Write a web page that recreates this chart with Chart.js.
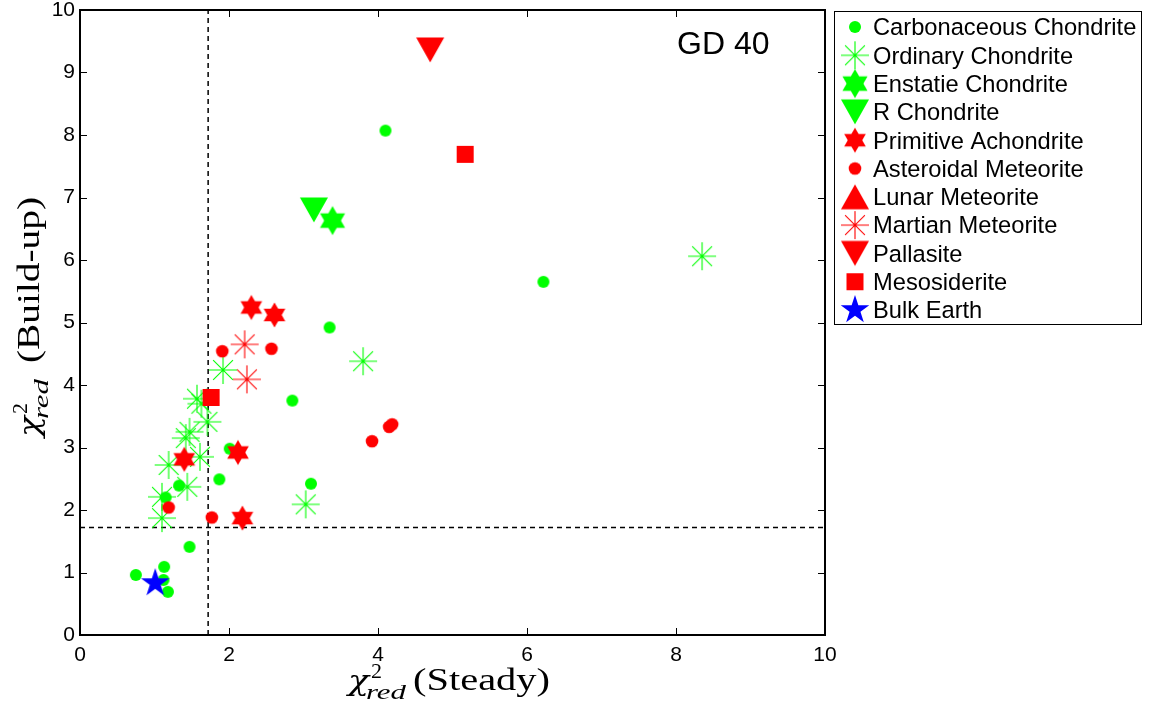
<!DOCTYPE html>
<html>
<head>
<meta charset="utf-8">
<script src="https://cdn.jsdelivr.net/npm/chart.js@4.4.0/dist/chart.umd.min.js"></script>
<style>
  html, body { margin: 0; padding: 0; background: #fff; }
</style>
</head>
<body>
<canvas id="chart" width="1155" height="706"></canvas>
<script>
// tick labels
const xTicks = [0, 2, 4, 6, 8, 10];
const yTicks = [0, 1, 2, 3, 4, 5, 6, 7, 8, 9, 10];
// chi2 threshold (dashed lines)
const threshold = 1.72;

// [steady, build-up] per meteorite class
const carbonaceous = [[4.10, 8.07], [6.22, 5.65], [3.35, 4.92], [2.85, 3.75], [2.01, 2.98], [1.87, 2.49],
  [3.10, 2.42], [1.33, 2.39], [1.15, 2.20], [1.47, 1.41], [1.13, 1.09], [0.75, 0.96], [1.12, 0.88], [1.18, 0.69]];
const ordinary = [[8.35, 6.06], [3.80, 4.38], [1.92, 4.24], [1.57, 3.78], [1.63, 3.70], [1.71, 3.41],
  [1.42, 3.15], [1.47, 3.25], [1.61, 2.85], [1.19, 2.72], [1.44, 2.37], [1.10, 2.21], [1.10, 1.87], [3.03, 2.09]];
const enstatite = [[3.39, 6.63]];
const rChondrite = [[3.14, 6.80]];
const primitive = [[2.30, 5.24], [2.61, 5.12], [2.12, 2.92], [1.40, 2.81], [2.18, 1.87]];
const asteroidal = [[1.91, 4.54], [2.57, 4.58], [4.15, 3.33], [4.19, 3.37], [3.92, 3.10], [1.77, 1.88], [1.19, 2.04]];
const lunar = [];
const martian = [[2.21, 4.65], [2.24, 4.09]];
const pallasite = [[4.70, 9.36]];
const mesosiderite = [[5.17, 7.69], [1.76, 3.80]];
const bulkEarth = [[1.01, 0.83]];

const GREEN = "#00ff00", RED = "#ff0000", BLUE = "#0000ff";

// marker images
function makeMarker(size, paint) {
  const c = document.createElement("canvas");
  c.width = size; c.height = size;
  const g = c.getContext("2d");
  paint(g, size / 2);
  return c;
}
function dot(color, r) {
  return makeMarker(Math.ceil(r) * 2 + 2, (g, c) => {
    g.fillStyle = color; g.beginPath(); g.arc(c, c, r, 0, Math.PI * 2); g.fill();
  });
}
function asterisk(color, r) {
  return makeMarker(Math.ceil(r) * 2 + 2, (g, c) => {
    g.strokeStyle = color; g.lineWidth = 1.1;
    g.beginPath();
    for (let k = 0; k < 4; k++) {
      const a = k * Math.PI / 4;
      g.moveTo(c - r * Math.cos(a), c - r * Math.sin(a));
      g.lineTo(c + r * Math.cos(a), c + r * Math.sin(a));
    }
    g.stroke();
  });
}
function hexagram(color, R) {
  return makeMarker(Math.ceil(R) * 2 + 2, (g, c) => {
    g.fillStyle = color;
    [-90, 90].forEach(start => {
      g.beginPath();
      for (let k = 0; k < 3; k++) {
        const a = (start + k * 120) * Math.PI / 180;
        g.lineTo(c + R * Math.cos(a), c + R * Math.sin(a));
      }
      g.closePath(); g.fill();
    });
  });
}
function triangle(color, w, h, down) {
  return makeMarker(Math.ceil(Math.max(w, h)) + 2, (g, c) => {
    g.fillStyle = color; g.beginPath();
    if (down) {
      g.moveTo(c - w / 2, c - h / 2); g.lineTo(c + w / 2, c - h / 2); g.lineTo(c, c + h / 2);
    } else {
      g.moveTo(c - w / 2, c + h / 2); g.lineTo(c + w / 2, c + h / 2); g.lineTo(c, c - h / 2);
    }
    g.closePath(); g.fill();
  });
}
function square(color, s) {
  return makeMarker(Math.ceil(s) + 2, (g, c) => {
    g.fillStyle = color; g.fillRect(c - s / 2, c - s / 2, s, s);
  });
}
function pentagram(color, R) {
  return makeMarker(Math.ceil(R) * 2 + 2, (g, c) => {
    g.fillStyle = color; g.beginPath();
    for (let k = 0; k < 10; k++) {
      const rr = k % 2 ? R * 0.382 : R;
      const a = (-90 + k * 36) * Math.PI / 180;
      g.lineTo(c + rr * Math.cos(a), c + rr * Math.sin(a));
    }
    g.closePath(); g.fill();
  });
}

const series = [
  { label: "Carbonaceous Chondrite", data: carbonaceous, marker: dot(GREEN, 6) },
  { label: "Ordinary Chondrite", data: ordinary, marker: asterisk(GREEN, 14) },
  { label: "Enstatie Chondrite", data: enstatite, marker: hexagram(GREEN, 14.5) },
  { label: "R Chondrite", data: rChondrite, marker: triangle(GREEN, 28, 25, true) },
  { label: "Primitive Achondrite", data: primitive, marker: hexagram(RED, 12.5) },
  { label: "Asteroidal Meteorite", data: asteroidal, marker: dot(RED, 6.3) },
  { label: "Lunar Meteorite", data: lunar, marker: triangle(RED, 28, 25, false) },
  { label: "Martian Meteorite", data: martian, marker: asterisk(RED, 14) },
  { label: "Pallasite", data: pallasite, marker: triangle(RED, 28, 25, true) },
  { label: "Mesosiderite", data: mesosiderite, marker: square(RED, 17) },
  { label: "Bulk Earth", data: bulkEarth, marker: pentagram(BLUE, 15) }
];

const datasets = series.map((s, i) => ({
  type: "scatter",
  label: s.label,
  data: s.data.map(p => ({ x: p[0], y: p[1] })),
  pointStyle: s.marker,
  pointRadius: 5,
  order: series.length - i
}));
// dashed threshold lines, under the markers
datasets.push({
  type: "line", label: "vline", showLine: true, order: 50,
  data: [{ x: threshold, y: 0 }, { x: threshold, y: 10 }],
  borderColor: "#000", borderWidth: 1.5, borderDash: [5, 4], pointRadius: 0
});
datasets.push({
  type: "line", label: "hline", showLine: true, order: 50,
  data: [{ x: 0, y: threshold }, { x: 10, y: threshold }],
  borderColor: "#000", borderWidth: 1.5, borderDash: [5, 4], pointRadius: 0
});

function fitText(ctx, text, x, y, font, width) {
  ctx.font = font;
  const w = ctx.measureText(text).width;
  ctx.save();
  ctx.translate(x, y);
  ctx.scale(width / w, 1);
  ctx.fillText(text, 0, 0);
  ctx.restore();
}

// chi^2_red (...) label, drawn along the local x axis from (0,0) = baseline start
function chiLabel(ctx, paren, parenStart, parenWidth) {
  ctx.fillStyle = "#000";
  ctx.textBaseline = "alphabetic";
  ctx.textAlign = "left";
  fitText(ctx, "\u03C7", 0, 0, "italic 27px 'DejaVu Serif'", 21);
  fitText(ctx, "2", 23, -12, "21px 'Liberation Serif'", 11);
  fitText(ctx, "red", 18, 9, "italic 21px 'Liberation Serif'", 40);
  fitText(ctx, paren, parenStart, 0, "31px 'Liberation Serif'", parenWidth);
}

const decorations = {
  id: "decorations",
  afterDraw(chart) {
    const ctx = chart.ctx;
    const a = chart.chartArea;
    const xs = chart.scales.x, ys = chart.scales.y;
    ctx.save();
    // inward ticks
    ctx.strokeStyle = "#000";
    ctx.lineWidth = 1;
    ctx.beginPath();
    xTicks.forEach(v => {
      const px = Math.round(xs.getPixelForValue(v)) + 0.5;
      ctx.moveTo(px, a.bottom); ctx.lineTo(px, a.bottom - 7);
      ctx.moveTo(px, a.top); ctx.lineTo(px, a.top + 7);
    });
    yTicks.forEach(v => {
      const py = Math.round(ys.getPixelForValue(v)) + 0.5;
      ctx.moveTo(a.left, py); ctx.lineTo(a.left + 7, py);
      ctx.moveTo(a.right, py); ctx.lineTo(a.right - 7, py);
    });
    ctx.stroke();
    // frame
    ctx.lineWidth = 2;
    ctx.strokeRect(a.left, a.top, a.right - a.left, a.bottom - a.top);

    // annotation
    ctx.fillStyle = "#000";
    ctx.font = "32px 'Liberation Sans'";
    ctx.textBaseline = "alphabetic";
    ctx.textAlign = "left";
    ctx.fillText("GD 40", 677, 54);

    // axis titles
    ctx.save();
    ctx.translate(348, 690);
    chiLabel(ctx, "(Steady)", 65, 137);
    ctx.restore();
    ctx.save();
    ctx.translate(39, 437);
    ctx.rotate(-Math.PI / 2);
    chiLabel(ctx, "(Build-up)", 74, 166);
    ctx.restore();

    // legend
    ctx.fillStyle = "#fff";
    ctx.fillRect(834.5, 11.5, 307, 313);
    ctx.strokeStyle = "#000";
    ctx.lineWidth = 1;
    ctx.strokeRect(834.5, 11.5, 307, 313);
    ctx.font = "23.7px 'Liberation Sans'";
    ctx.fillStyle = "#000";
    series.forEach((s, i) => {
      const cy = 27 + i * 28.3;
      const m = s.marker;
      ctx.drawImage(m, 855 - m.width / 2, cy - m.height / 2);
      ctx.fillText(s.label, 873, cy + 8.3);
    });
    ctx.restore();
  }
};

const tickFont = { family: "'Liberation Sans'", size: 21 };

new Chart(document.getElementById("chart").getContext("2d"), {
  type: "scatter",
  data: { datasets: datasets },
  options: {
    responsive: false,
    animation: false,
    events: [],
    layout: { padding: { left: 0, right: 330, top: 10, bottom: 0 } },
    plugins: { legend: { display: false }, tooltip: { enabled: false } },
    scales: {
      x: {
        type: "linear", min: 0, max: 10,
        grid: { display: false, drawTicks: false }, border: { display: false },
        afterBuildTicks: s => { s.ticks = xTicks.map(v => ({ value: v })); },
        ticks: { color: "#000", font: tickFont, padding: 8, maxRotation: 0 },
        afterFit: s => { s.height = 71; s.paddingLeft = 0; s.paddingRight = 0; }
      },
      y: {
        type: "linear", min: 0, max: 10,
        grid: { display: false, drawTicks: false }, border: { display: false },
        afterBuildTicks: s => { s.ticks = yTicks.map(v => ({ value: v })); },
        ticks: { color: "#000", font: tickFont, padding: 5 },
        afterFit: s => { s.width = 80; s.paddingTop = 0; s.paddingBottom = 0; }
      }
    }
  },
  plugins: [decorations]
});
</script>
</body>
</html>
